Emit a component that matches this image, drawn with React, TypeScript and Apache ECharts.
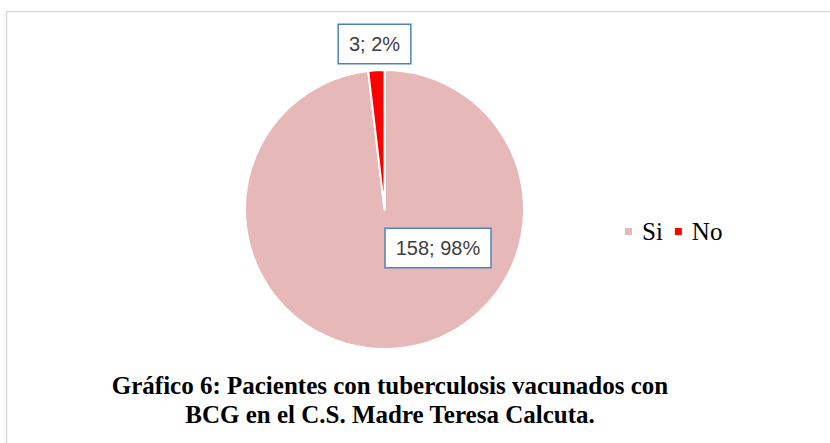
import React, { useEffect, useRef } from "react";
import * as echarts from "echarts";

const categories = ["Si", "No"];
const values = [158, 3];
const colors = ["#e6b9b8", "#ff0000"];
const titleLines = [
  "Gráfico 6: Pacientes con tuberculosis vacunados con",
  "BCG en el C.S. Madre Teresa Calcuta.",
];

export default function App() {
  const ref = useRef<HTMLDivElement>(null);
  useEffect(() => {
    document.body.style.margin = "0";
    const chart = echarts.init(ref.current!, null, { renderer: "svg" });
    const labelPos = [
      { x: 438, y: 248 },
      { x: 374.5, y: 44 },
    ];
    chart.setOption({
      animation: false,
      backgroundColor: "#ffffff",
      title: {
        text: titleLines.join("\n"),
        left: 385,
        top: 366,
        textAlign: "center",
        textStyle: {
          fontFamily: "Liberation Serif",
          fontWeight: "bold",
          fontSize: 25,
          lineHeight: 29,
          color: "#000000",
        },
      },
      legend: {
        data: categories,
        orient: "horizontal",
        left: 618,
        top: 214,
        icon: "rect",
        itemWidth: 9,
        itemHeight: 9,
        itemGap: 10,
        textStyle: {
          fontFamily: "Liberation Serif",
          fontSize: 25,
          color: "#000000",
          padding: [0, 0, 0, 4],
        },
      },
      graphic: [
        {
          type: "line",
          shape: { x1: 6, y1: 11.5, x2: 830, y2: 11.5 },
          style: { stroke: "#d9d9d9", lineWidth: 1.5 },
          silent: true,
        },
        {
          type: "line",
          shape: { x1: 6.5, y1: 11, x2: 6.5, y2: 443 },
          style: { stroke: "#d9d9d9", lineWidth: 1.5 },
          silent: true,
        },
      ],
      series: [
        {
          type: "pie",
          center: [384.5, 209.5],
          radius: 139.5,
          startAngle: 90,
          clockwise: true,
          percentPrecision: 0,
          avoidLabelOverlap: false,
          data: categories.map((name, i) => ({
            name,
            value: values[i],
            itemStyle: { color: colors[i] },
          })),
          itemStyle: { borderColor: "#ffffff", borderWidth: 2 },
          label: {
            show: true,
            position: "inside",
            formatter: "{c}; {d}%",
            fontFamily: "Liberation Sans",
            fontSize: 20,
            lineHeight: 20,
            color: "#404040",
            backgroundColor: "#ffffff",
            borderColor: "#4f81bd",
            borderWidth: 1.5,
            padding: [9, 10],
          },
          labelLine: { show: false },
          labelLayout: (params: any) => ({
            x: labelPos[params.dataIndex].x,
            y: labelPos[params.dataIndex].y,
            align: "center",
            verticalAlign: "middle",
          }),
          emphasis: { disabled: true },
        },
      ],
    });
    return () => chart.dispose();
  }, []);
  return (
    <div
      ref={ref}
      style={{ position: "absolute", left: 0, top: 0, width: 830, height: 443 }}
    />
  );
}
